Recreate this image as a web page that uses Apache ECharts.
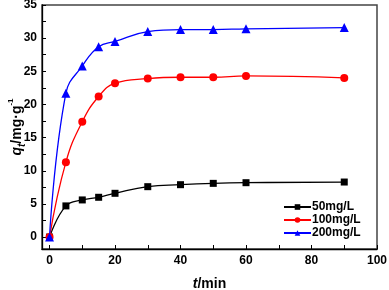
<!DOCTYPE html>
<html>
<head>
<meta charset="utf-8">
<script src="https://cdn.jsdelivr.net/npm/echarts@6/dist/echarts.min.js"></script>
<style>
  html, body { margin: 0; padding: 0; background: #fff; }
  #chart { width: 389px; height: 290px; }
</style>
</head>
<body>
<div id="chart"></div>
<script>
  // adsorption time, min
  var times = [0, 5, 10, 15, 20, 30, 40, 50, 60, 90];
  // q_t for each initial concentration
  var q50 = [0, 4.7, 5.6, 6.0, 6.6, 7.6, 7.9, 8.1, 8.2, 8.3];
  var q100 = [0, 11.3, 17.4, 21.2, 23.2, 23.9, 24.1, 24.1, 24.3, 24.0];
  var q200 = [0, 21.7, 25.8, 28.7, 29.5, 31.0, 31.3, 31.3, 31.4, 31.6];
  var seriesNames = ['50mg/L', '100mg/L', '200mg/L'];

  var xLabels = [0, 20, 40, 60, 80, 100];
  var xTicks = [0, 10, 20, 30, 40, 50, 60, 70, 80, 90, 100];
  var yLabels = [0, 5, 10, 15, 20, 25, 30, 35];
  var yTicks = [0, 2.5, 5, 7.5, 10, 12.5, 15, 17.5, 20, 22.5, 25, 27.5, 30, 32.5, 35];

  function pairs(ys) {
    return times.map(function(t, i) { return [t, ys[i]]; });
  }

  var font = '"Liberation Sans", Arial, sans-serif';

  function makeSeries(name, ys, color, symbol, size) {
    return {
      name: name,
      type: 'line',
      data: pairs(ys),
      smooth: 0.45,
      symbol: symbol,
      symbolSize: size,
      showAllSymbol: true,
      lineStyle: { color: color, width: 1.3 },
      itemStyle: { color: color, borderWidth: 0 },
      emphasis: { disabled: true },
      z: 3
    };
  }

  var chart = echarts.init(document.getElementById('chart'), null, { renderer: 'canvas' });

  var option = {
    animation: false,
    backgroundColor: '#fff',
    textStyle: { fontFamily: font },
    grid: {
      left: 42, right: 12, top: 5, bottom: 41,
      containLabel: false,
      outerBoundsMode: 'none',
      show: true,
      borderColor: '#444',
      borderWidth: 1.5
    },
    legend: {
      orient: 'vertical',
      left: 278,
      top: 196,
      itemWidth: 27,
      itemHeight: 7,
      itemGap: 1,
      textStyle: { fontFamily: font, fontWeight: 'bold', fontSize: 12, color: '#000', padding: [0, 0, 0, -4] },
      data: seriesNames
    },
    xAxis: {
      type: 'value',
      min: -2.3,
      max: 100,
      name: '{i|t}{n|/min}',
      nameLocation: 'middle',
      nameGap: 28,
      nameMoveOverlap: false,
      nameTextStyle: {
        rich: {
          i: { fontFamily: font, fontStyle: 'italic', fontWeight: 'bold', fontSize: 14, color: '#000' },
          n: { fontFamily: font, fontWeight: 'bold', fontSize: 14, color: '#000' }
        }
      },
      axisLine: { onZero: false, lineStyle: { color: '#000', width: 1.3 } },
      axisTick: { inside: true, length: 4, customValues: xTicks, lineStyle: { color: '#000', width: 1 } },
      axisLabel: { customValues: xLabels, margin: 6, fontFamily: font, fontWeight: 'bold', fontSize: 12, color: '#000' },
      splitLine: { show: false }
    },
    yAxis: {
      type: 'value',
      min: -1.8,
      max: 35,
      name: '{i|q}{sub|t}{n|/mg·g}{sup|-1}',
      nameLocation: 'middle',
      nameGap: 15,
      nameRotate: 90,
      nameMoveOverlap: false,
      nameTextStyle: {
        rich: {
          i: { fontFamily: font, fontStyle: 'italic', fontWeight: 'bold', fontSize: 14, lineHeight: 18, color: '#000' },
          sub: { fontFamily: font, fontStyle: 'italic', fontWeight: 'bold', fontSize: 10, lineHeight: 12, verticalAlign: 'bottom', color: '#000' },
          n: { fontFamily: font, fontWeight: 'bold', fontSize: 14, lineHeight: 18, color: '#000' },
          sup: { fontFamily: font, fontWeight: 'bold', fontSize: 8, lineHeight: 20, verticalAlign: 'top', color: '#000' }
        }
      },
      axisLine: { onZero: false, lineStyle: { color: '#000', width: 1.3 } },
      axisTick: { inside: true, length: 4, customValues: yTicks, lineStyle: { color: '#000', width: 1 } },
      axisLabel: { customValues: yLabels, margin: 5, fontFamily: font, fontWeight: 'bold', fontSize: 12, color: '#000' },
      splitLine: { show: false }
    },
    series: [
      makeSeries(seriesNames[0], q50, '#000000', 'rect', 7),
      makeSeries(seriesNames[1], q100, '#ff0000', 'circle', 8),
      makeSeries(seriesNames[2], q200, '#0000ff', 'triangle', 9)
    ]
  };

  chart.setOption(option);
</script>
</body>
</html>
